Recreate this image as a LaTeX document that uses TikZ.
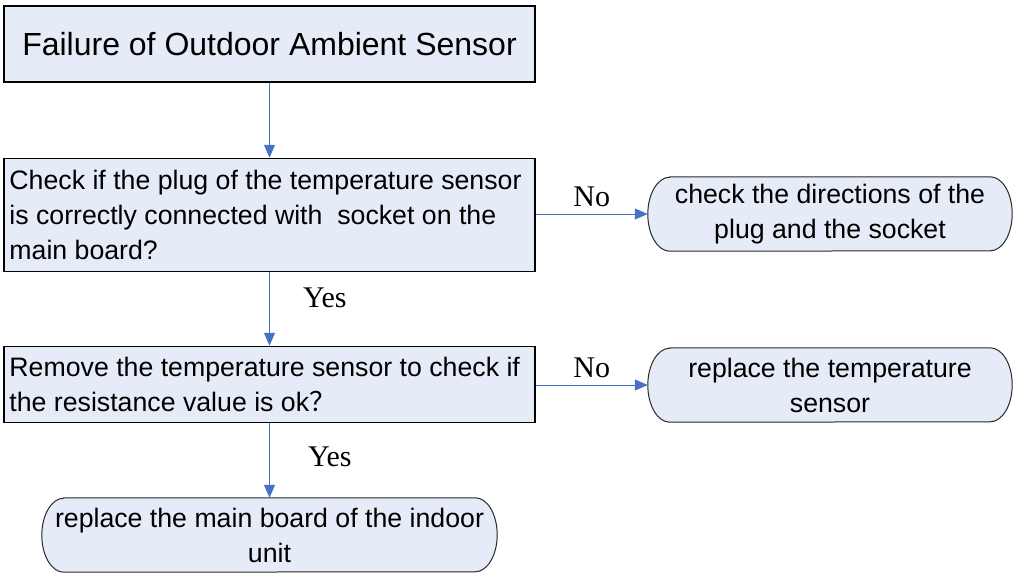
\documentclass[tikz,border=0pt]{standalone}
\usepackage{fontspec}
\setmainfont{Liberation Sans}
\newfontfamily\serifl{Liberation Serif}
\newfontfamily\cjk{Noto Sans CJK SC}
\usetikzlibrary{arrows.meta,backgrounds}
\definecolor{boxfill}{RGB}{230,236,247}
\definecolor{arrowblue}{RGB}{68,114,196}
\definecolor{edgegray}{RGB}{40,40,40}
\newcommand\stadiumshape[1]{%
  \begin{pgfonlayer}{background}
  \draw[fill=boxfill,draw=edgegray,line width=1pt]
    ([xshift=22pt]#1.north west) -- ([xshift=-22pt]#1.north east)
    arc[start angle=90,end angle=-90,x radius=22pt,y radius=37pt]
    -- ([xshift=22pt]#1.south west)
    arc[start angle=270,end angle=90,x radius=22pt,y radius=37pt] -- cycle;
  \end{pgfonlayer}}
\tikzset{
  sqbox/.style={draw=black,fill=boxfill,line width=1.5pt,inner sep=0pt,minimum width=531pt},
  bodytext/.style={font=\fontsize{26.7}{35}\selectfont},
  intext/.style={bodytext,align=left,anchor=west,inner sep=0pt},
  rbox/.style={bodytext,align=center,inner sep=0pt,minimum width=364pt,minimum height=74pt},
  flow/.style={draw=arrowblue,line width=1pt,-{Triangle[length=13pt,width=11pt]},color=arrowblue},
  lbl/.style={font=\fontsize{30}{30}\serifl,inner sep=0pt,text=black}
}
\begin{document}
\begin{tikzpicture}[x=1pt,y=-1pt]
\useasboundingbox (0,0) rectangle (1016,575);
\node[sqbox,minimum height=76pt,font=\fontsize{32}{36}\selectfont] (t) at (269.5,44) {Failure of Outdoor Ambient Sensor};
\node[sqbox,minimum height=113pt] (q1) at (269.5,215) {};
\node[intext] (q1t) at ([xshift=6pt]q1.west) {Check if the plug of the temperature sensor\\is correctly connected with\ \ socket on the\\main board?};
\node[sqbox,minimum height=76pt] (q2) at (269.5,384.5) {};
\node[intext] (q2t) at ([xshift=6pt]q2.west) {Remove the temperature sensor to check if\\the resistance value is ok{\cjk ？}};
\node[rbox] (a1) at (830,214) {check the directions of the\\plug and the socket};
\node[rbox] (a2) at (830,385) {replace the temperature\\sensor};
\node[rbox,minimum width=455pt] (a3) at (269.5,535) {replace the main board of the indoor\\unit};
\stadiumshape{a1}
\stadiumshape{a2}
\stadiumshape{a3}
\draw[flow] (t) -- (q1);
\draw[flow] (q1) -- node[lbl,pos=0.35,right=33pt] (y1) {Yes} (q2);
\draw[flow] (q2) -- node[lbl,pos=0.45,right=38pt] (y2) {Yes} (a3);
\draw[flow] (q1.east |- a1.west) -- node[lbl,above=7pt] (n1) {No} (a1.west);
\draw[flow] (q2.east |- a2.west) -- node[lbl,above=7pt] (n2) {No} (a2.west);
\end{tikzpicture}
\end{document}
